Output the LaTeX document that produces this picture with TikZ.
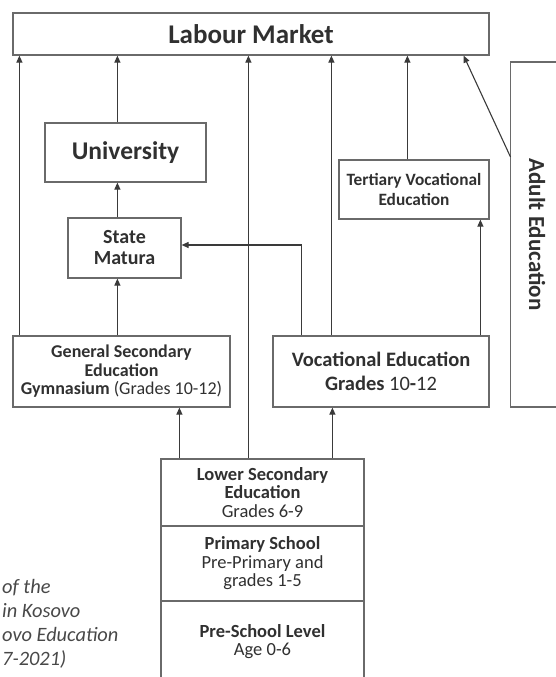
\documentclass[tikz,border=0pt]{standalone}
\usepackage{fontspec}
\setmainfont{Carlito}
\usetikzlibrary{arrows.meta}
\definecolor{bordercol}{HTML}{6A6A6A}
\definecolor{arrowcol}{HTML}{3A3A3A}
\definecolor{textcol}{HTML}{303030}
\definecolor{captcol}{HTML}{484848}
\tikzset{
  box/.style={draw=bordercol, line width=1.2pt, inner sep=0pt, align=center, text=textcol},
  plain/.style={inner sep=0pt, align=center, text=textcol},
  arr/.style={draw=arrowcol, line width=1.1pt, -{Triangle[width=6pt,length=7pt]}},
  edge/.style={draw=bordercol, line width=1.2pt}
}
\begin{document}
\begin{tikzpicture}[x=1pt,y=-1pt]
\useasboundingbox (0,0) rectangle (555,677);
% boxes
\node[box, minimum width=476pt, minimum height=42pt, font=\fontsize{27}{30}\selectfont\bfseries] (labour) at (251,34) {Labour Market};
\node[box, minimum width=161pt, minimum height=59pt, font=\fontsize{25.5}{29}\selectfont\bfseries] (univ) at (125.5,152.5) {University};
\node[box, minimum width=113pt, minimum height=60pt, font=\fontsize{20}{21}\selectfont\bfseries] (state) at (124.5,248) {State\\Matura};
\node[box, minimum width=217pt, minimum height=71pt, font=\fontsize{18}{18.5}\selectfont] (gen) at (121.5,371.5) {\textbf{General Secondary}\\\textbf{Education}\\\textbf{Gymnasium} (Grades 10-12)};
\node[box, minimum width=216pt, minimum height=71pt, font=\fontsize{20.5}{24}\selectfont] (voc) at (381,371.5) {\textbf{Vocational Education}\\\textbf{Grades} 10\textbf{-}12};
\node[box, minimum width=150pt, minimum height=59pt, font=\fontsize{17.3}{20}\selectfont\bfseries] (tert) at (414,189.5) {Tertiary Vocational\\Education};
\node[box, minimum width=203pt, minimum height=67pt, font=\fontsize{18.5}{18.5}\selectfont] (lower) at (262.5,492.5) {\textbf{Lower Secondary}\\\textbf{Education}\\Grades 6-9};
\node[box, minimum width=203pt, minimum height=75pt, font=\fontsize{18.5}{18.5}\selectfont] (primary) at (262.5,563.5) {\textbf{Primary School}\\Pre-Primary and\\grades 1-5};
\node[plain, font=\fontsize{18.5}{18}\selectfont] (pre) at (262.5,642) {\textbf{Pre-School Level}\\Age 0-6};
\draw[edge] (161,601) -- (161,678) (364,601) -- (364,678);
% adult education (box runs off the right edge)
\draw[edge] (556,62) -- (510.5,62) -- (510.5,407) -- (556,407);
\node[plain, rotate=-90, font=\fontsize{23}{27}\selectfont\bfseries] (adult) at (537,234.5) {Adult Education};
\coordinate (adultin) at (510.5,157);
% caption fragment
\node[font=\fontsize{20.4}{24}\selectfont\itshape, text=captcol, align=left, anchor=west, inner sep=0pt] (cap) at (2,624) {of the\\in Kosovo\\ovo Education\\7-2021)};
% connectors
\draw[arr] ([xshift=7pt]gen.north west) -- ([xshift=7pt]gen.north west |- labour.south);
\draw[arr] ([xshift=105pt]gen.north west) -- ([xshift=105pt]gen.north west |- state.south);
\draw[arr] ([xshift=50pt]state.north west) -- ([xshift=50pt]state.north west |- univ.south);
\draw[arr] ([xshift=73pt]univ.north west) -- ([xshift=73pt]univ.north west |- labour.south);
\draw[arr] ([xshift=88pt]lower.north west) -- ([xshift=88pt]lower.north west |- labour.south);
\draw[arr] ([xshift=19pt]lower.north west) -- ([xshift=19pt]lower.north west |- gen.south);
\draw[arr] ([xshift=172pt]lower.north west) -- ([xshift=172pt]lower.north west |- voc.south);
\draw[arr] ([xshift=59pt]voc.north west) -- ([xshift=59pt]voc.north west |- labour.south);
\draw[arr] ([xshift=29pt]voc.north west) |- ([yshift=3pt]state.east);
\draw[arr] ([xshift=208pt]voc.north west) -- ([xshift=208pt]voc.north west |- tert.south);
\draw[arr] ([xshift=69pt]tert.north west) -- ([xshift=69pt]tert.north west |- labour.south);
\draw[arr] (adultin) -- ([xshift=-26pt]labour.south east);
\end{tikzpicture}
\end{document}
